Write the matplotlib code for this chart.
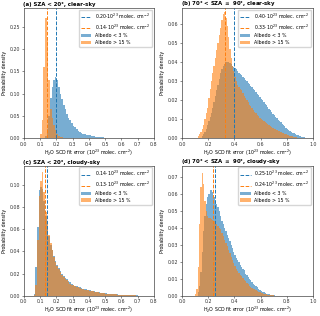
import numpy as np
import matplotlib
matplotlib.use("Agg")
import matplotlib.pyplot as plt

# ---------------- data ----------------
# bin left edges start values and heights (bin width 0.01)
a_blue_start = 0.13
a_blue = [0.005, 0.02, 0.05, 0.09, 0.115, 0.13, 0.138, 0.13, 0.115, 0.10, 0.088, 0.075, 0.065,
          0.055, 0.046, 0.040, 0.033, 0.028, 0.024, 0.020, 0.017, 0.014, 0.012, 0.010, 0.009,
          0.008, 0.007, 0.006, 0.005, 0.004, 0.004, 0.003, 0.003, 0.002, 0.002, 0.002, 0.001, 0.001]
a_orange_start = 0.10
a_orange = [0.01, 0.04, 0.16, 0.27, 0.22, 0.13, 0.065, 0.045, 0.03, 0.018, 0.01, 0.005, 0.003, 0.002]

b_blue_start = 0.15
b_blue = [0.001, 0.002, 0.003, 0.005, 0.007, 0.009, 0.011, 0.013, 0.016, 0.019, 0.022, 0.025, 0.028,
          0.031, 0.034, 0.036, 0.038, 0.039, 0.040, 0.040, 0.040, 0.0395, 0.039, 0.038, 0.0375,
          0.037, 0.036, 0.0352, 0.0344, 0.0336, 0.033, 0.0322, 0.0314, 0.0306, 0.0298, 0.029,
          0.0282, 0.0274, 0.0266, 0.0258, 0.025, 0.0241, 0.0232, 0.0224, 0.0216, 0.0207, 0.0198,
          0.0189, 0.0181, 0.0172, 0.0164, 0.0155, 0.0146, 0.0137, 0.0128, 0.012, 0.0112, 0.0104,
          0.0096, 0.009, 0.0083, 0.0076, 0.0069, 0.0062, 0.0055, 0.0048, 0.0042, 0.0037, 0.0032,
          0.0029, 0.0026, 0.0022, 0.0018, 0.0015, 0.0012, 0.001, 0.0008, 0.0006, 0.0004, 0.0003]
b_orange_start = 0.12
b_orange = [0.001, 0.002, 0.003, 0.005, 0.007, 0.010, 0.013, 0.016, 0.021, 0.026, 0.030, 0.034,
            0.038, 0.042, 0.046, 0.050, 0.054, 0.058, 0.062, 0.065, 0.066, 0.063, 0.059, 0.053,
            0.047, 0.042, 0.038, 0.035, 0.032, 0.030, 0.028, 0.027, 0.026, 0.025, 0.0235, 0.022,
            0.021, 0.0198, 0.0187, 0.0176, 0.0166, 0.0156, 0.0147, 0.0138, 0.013, 0.0122, 0.0115,
            0.0108, 0.0101, 0.0095, 0.0089, 0.0083, 0.0078, 0.0073, 0.0068, 0.0063, 0.0058, 0.0054,
            0.005, 0.0046, 0.0042, 0.0038, 0.0035, 0.0032, 0.0029, 0.0026, 0.0023, 0.002, 0.0017,
            0.0015, 0.0013, 0.0011, 0.0009, 0.0007, 0.0005, 0.0004, 0.0003, 0.0002]

c_blue_start = 0.06
c_blue = [0.002, 0.026, 0.062, 0.095, 0.098, 0.096, 0.085, 0.072, 0.062, 0.054, 0.046, 0.041,
          0.036, 0.031, 0.028, 0.025, 0.022, 0.020, 0.018, 0.016, 0.015, 0.013, 0.012, 0.011,
          0.010, 0.009, 0.0085, 0.008, 0.0075, 0.007, 0.0065, 0.006, 0.0057, 0.0055, 0.005,
          0.0045, 0.0042, 0.004, 0.0036, 0.0033, 0.003, 0.0028, 0.0026, 0.0024, 0.0022, 0.002,
          0.0018, 0.0017, 0.0016, 0.0015, 0.0013, 0.0012, 0.0011, 0.001, 0.0009, 0.0008, 0.0007,
          0.0006, 0.0006, 0.0005, 0.0004, 0.0004, 0.0003, 0.0003, 0.0002]
c_orange_start = 0.06
c_orange = [0.001, 0.010, 0.050, 0.090, 0.103, 0.111, 0.093, 0.075, 0.066, 0.055, 0.047, 0.041,
            0.035, 0.030, 0.027, 0.024, 0.021, 0.019, 0.017, 0.015, 0.014, 0.012, 0.011, 0.010,
            0.0095, 0.0088, 0.008, 0.0075, 0.007, 0.0065, 0.006, 0.0055, 0.0052, 0.005, 0.0046,
            0.0042, 0.0039, 0.0036, 0.0033, 0.003, 0.0027, 0.0025, 0.0023, 0.0021, 0.0019, 0.0017,
            0.0016, 0.0015, 0.0014, 0.0013, 0.0012, 0.0011, 0.001, 0.0009, 0.0008, 0.0007, 0.0006,
            0.0005, 0.0005, 0.0004, 0.0004, 0.0003, 0.0003, 0.0002, 0.0002]

d_blue_start = 0.12
d_blue = [0.002, 0.006, 0.014, 0.026, 0.038, 0.047, 0.054, 0.058, 0.060, 0.062, 0.062, 0.061,
          0.058, 0.056, 0.054, 0.052, 0.050, 0.047, 0.044, 0.042, 0.040, 0.038, 0.036, 0.034,
          0.032, 0.030, 0.028, 0.026, 0.024, 0.022, 0.021, 0.020, 0.018, 0.017, 0.016, 0.015,
          0.013, 0.012, 0.011, 0.010, 0.009, 0.008, 0.0072, 0.0064, 0.0056, 0.0049, 0.0042,
          0.0036, 0.003, 0.0025, 0.002, 0.0016, 0.0013, 0.001, 0.0008, 0.0006, 0.0004, 0.0003,
          0.0002]
d_orange_start = 0.10
d_orange = [0.001, 0.004, 0.017, 0.042, 0.064, 0.0725, 0.066, 0.056, 0.050, 0.047, 0.046,
            0.0455, 0.045, 0.0445, 0.044, 0.043, 0.042, 0.041, 0.040, 0.039, 0.037, 0.035, 0.033,
            0.031, 0.029, 0.027, 0.025, 0.023, 0.021, 0.019, 0.0174, 0.016, 0.0148, 0.0136,
            0.0124, 0.0116, 0.0105, 0.0094, 0.0084, 0.0075, 0.0068, 0.006, 0.0053, 0.0047,
            0.0042, 0.0037, 0.0032, 0.0028, 0.0024, 0.0021, 0.0018, 0.0015, 0.0012, 0.001,
            0.0008, 0.0006, 0.0005, 0.0004, 0.0003, 0.0002]

means_blue = [0.20, 0.40, 0.14, 0.25]
means_orange = [0.14, 0.33, 0.13, 0.24]
titles = ["(a) SZA < 20°, clear-sky", "(b) 70° < SZA $\\leq$ 90°, clear-sky",
          "(c) SZA < 20°, cloudy-sky", "(d) 70° < SZA $\\leq$ 90°, cloudy-sky"]
xmaxs = [0.8, 1.0, 0.8, 1.0]
ymaxs = [0.293, 0.0683, 0.117, 0.0766]
ytick_steps = [0.05, 0.01, 0.02, 0.01]
xtick_steps = [0.1, 0.2, 0.1, 0.2]
blue_sets = [(a_blue_start, a_blue), (b_blue_start, b_blue), (c_blue_start, c_blue), (d_blue_start, d_blue)]
orange_sets = [(a_orange_start, a_orange), (b_orange_start, b_orange), (c_orange_start, c_orange), (d_orange_start, d_orange)]
label_blue = "Albedo < 3 %"
label_orange = "Albedo > 15 %"
binw = 0.01

BLUE = "#1f77b4"
ORANGE = "#ff7f0e"

fig = plt.figure(figsize=(3.2, 3.16), dpi=100)
rects = [[0.075, 0.563, 0.406, 0.412], [0.569, 0.563, 0.409, 0.412],
         [0.075, 0.064, 0.406, 0.412], [0.569, 0.064, 0.409, 0.412]]
fs = 3.4
for i in range(4):
    ax = fig.add_axes(rects[i])
    bs, bv = blue_sets[i]
    os_, ov = orange_sets[i]
    bx = np.round(bs + binw * np.arange(len(bv)), 3)
    ox = np.round(os_ + binw * np.arange(len(ov)), 3)
    ax.bar(bx, bv, width=binw, align='edge', color=BLUE, alpha=0.6, linewidth=0, label=label_blue)
    ax.bar(ox, ov, width=binw, align='edge', color=ORANGE, alpha=0.6, linewidth=0, label=label_orange)
    ax.axvline(means_blue[i], color=BLUE, ls='--', lw=0.7,
               label="%.2f$\\cdot$10$^{23}$ molec. cm$^{-2}$" % means_blue[i])
    ax.axvline(means_orange[i], color=ORANGE, ls='--', lw=0.7,
               label="%.2f$\\cdot$10$^{23}$ molec. cm$^{-2}$" % means_orange[i])
    ax.set_xlim(0, xmaxs[i])
    ax.set_ylim(0, ymaxs[i])
    ax.set_xticks(np.arange(0, xmaxs[i] + 1e-9, xtick_steps[i]))
    ax.set_yticks(np.arange(0, ymaxs[i], ytick_steps[i]))
    ax.xaxis.set_major_formatter(matplotlib.ticker.FormatStrFormatter('%.1f'))
    ax.yaxis.set_major_formatter(matplotlib.ticker.FormatStrFormatter('%.2f'))
    ax.tick_params(labelsize=fs, length=1.5, width=0.4, pad=1.0, colors='#333333')
    for s in ax.spines.values():
        s.set_linewidth(0.5)
        s.set_color('#444444')
    ax.set_ylabel("Probability density", fontsize=fs, labelpad=2)
    ax.set_xlabel("H$_2$O SCD fit error (10$^{23}$ molec. cm$^{-2}$)", fontsize=fs, labelpad=0.6)
    ax.set_title(titles[i], loc='left', fontsize=3.9, fontweight='bold', pad=1.5, x=-0.01)
    ax.legend(loc='upper right', fontsize=fs, frameon=True, handlelength=2.2, borderpad=0.4,
              labelspacing=0.35, handletextpad=0.8, borderaxespad=0.35, framealpha=0.8)

fig.savefig("out.png", dpi=100)
